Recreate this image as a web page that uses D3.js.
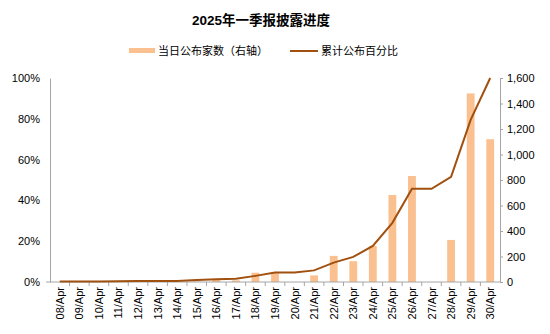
<!DOCTYPE html>
<html><head><meta charset="utf-8">
<script src="https://cdn.jsdelivr.net/npm/d3@7"></script>
<style>body{margin:0;background:#fff}svg{display:block}text{font-family:"Liberation Sans","Noto Sans CJK SC",sans-serif}</style>
</head><body><svg id="c" width="550" height="334"></svg>
<script>
const categories = ["08/Apr","09/Apr","10/Apr","11/Apr","12/Apr","13/Apr","14/Apr","15/Apr","16/Apr","17/Apr","18/Apr","19/Apr","20/Apr","21/Apr","22/Apr","23/Apr","24/Apr","25/Apr","26/Apr","27/Apr","28/Apr","29/Apr","30/Apr"];
const dailyCount = [0,0,0,0,0,0,0,5,18,13,73,78,0,52,205,163,283,682,831,0,330,1479,1120];
const cumulativePct = [0.002,0.002,0.003,0.004,0.005,0.005,0.005,0.010,0.013,0.016,0.030,0.046,0.047,0.057,0.095,0.123,0.177,0.290,0.457,0.457,0.516,0.795,1.0];
const leftTicks = [0,0.2,0.4,0.6,0.8,1.0];
const rightTicks = [0,200,400,600,800,1000,1200,1400,1600];
const titleText = "2025年一季报披露进度";
const legendBar = "当日公布家数（右轴）";
const legendLine = "累计公布百分比";

const svg = d3.select("#c");
const L = 50, R = 500, T = 78, B = 282;
const barColor = "#FAC090", lineColor = "#A0500F", axisColor = "#A6A6A6";

const x = d3.scaleBand().domain(categories).range([L, R]).paddingInner(0.6).paddingOuter(0.3);
const xb = d3.scaleBand().domain(categories).range([L, R]);
const yL = d3.scaleLinear().domain([0, 1]).range([B, T]);
const yR = d3.scaleLinear().domain([0, 1600]).range([B, T]);

svg.append("text").attr("x", 261).attr("y", 25).attr("text-anchor", "middle")
  .attr("font-size", 13.5).attr("font-weight", "bold").text(titleText);

// legend
svg.append("rect").attr("x", 129).attr("y", 48).attr("width", 26).attr("height", 5).attr("fill", barColor);
svg.append("text").attr("x", 158).attr("y", 55).attr("font-size", 11).text(legendBar);
svg.append("line").attr("x1", 290).attr("x2", 318).attr("y1", 51).attr("y2", 51).attr("stroke", lineColor).attr("stroke-width", 2);
svg.append("text").attr("x", 321).attr("y", 55).attr("font-size", 11).text(legendLine);

// bars
svg.append("g").selectAll("rect").data(categories).join("rect")
  .attr("x", d => x(d)).attr("width", x.bandwidth())
  .attr("y", (d, i) => yR(dailyCount[i])).attr("height", (d, i) => B - yR(dailyCount[i]))
  .attr("fill", barColor);

// left axis
const gl = svg.append("g").attr("transform", `translate(${L},0)`)
  .call(d3.axisLeft(yL).tickValues(leftTicks).tickFormat(d3.format(".0%")).tickSize(0).tickPadding(10));
gl.select(".domain").attr("stroke", axisColor);
gl.selectAll("text").attr("font-size", 11).attr("fill", "#000").style("font-family", "'Liberation Sans',sans-serif");

// right axis
const gr = svg.append("g").attr("transform", `translate(${R},0)`)
  .call(d3.axisRight(yR).tickValues(rightTicks).tickFormat(d3.format(",")).tickSize(3).tickSizeOuter(0).tickPadding(4));
gr.select(".domain").attr("stroke", axisColor);
gr.selectAll("line").attr("stroke", axisColor);
gr.selectAll("text").attr("font-size", 11).attr("fill", "#000").style("font-family", "'Liberation Sans',sans-serif");

// x axis
const gx = svg.append("g").attr("transform", `translate(0,${B})`);
gx.append("line").attr("x1", L - 4).attr("x2", R).attr("stroke", axisColor);
gx.selectAll("line.tk").data(categories.slice(1)).join("line").attr("class", "tk")
  .attr("x1", d => xb(d)).attr("x2", d => xb(d)).attr("y1", 0).attr("y2", 4).attr("stroke", axisColor);
gx.selectAll("text").data(categories).join("text")
  .attr("transform", d => `translate(${xb(d) + xb.bandwidth() / 2 + 4},5) rotate(-90)`)
  .attr("text-anchor", "end").attr("font-size", 11).text(d => d);

// line
const line = d3.line().x((d, i) => xb(categories[i]) + xb.bandwidth() / 2).y(d => yL(d));
svg.append("path").datum(cumulativePct).attr("d", line).attr("fill", "none")
  .attr("stroke", lineColor).attr("stroke-width", 2);
</script></body></html>
